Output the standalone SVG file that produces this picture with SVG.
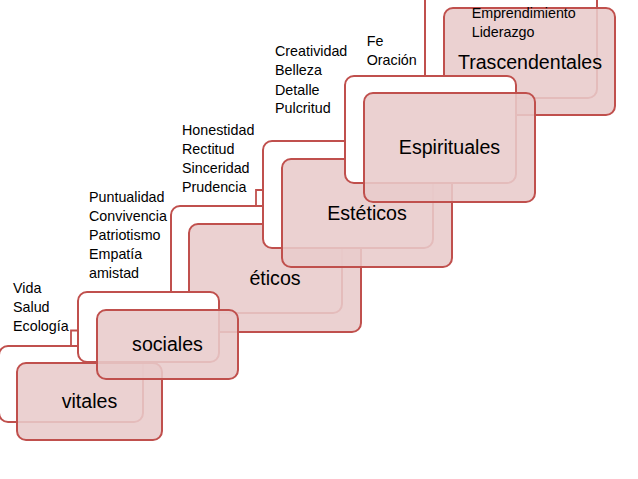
<svg xmlns="http://www.w3.org/2000/svg" width="638" height="479" viewBox="0 0 638 479">
<style>
.back{fill:#fff;stroke:#C0504D;stroke-width:2}
.front{fill:#E8CBCB;fill-opacity:.88;stroke:#C0504D;stroke-width:2}
.lbl{font-family:"Liberation Sans",Arial,sans-serif;font-size:19.6px;text-anchor:middle;fill:#000}
.sm{font-family:"Liberation Sans",Arial,sans-serif;font-size:14.3px;fill:#000}
.con{fill:none;stroke:#C0504D;stroke-width:1.8}
</style>
<rect width="638" height="479" fill="#fff"/>
<g id="trascendentales">
<rect class="back" x="425" y="-10" width="172" height="108" rx="9"/>
<rect class="front" x="444" y="8" width="171" height="107" rx="9"/>
<text class="lbl" x="530" y="69.3">Trascendentales</text>
<text class="sm" x="471.7" y="18.3">Emprendimiento</text>
<text class="sm" x="471.7" y="36.7">Liderazgo</text>
</g>
<g id="eticos">
<rect class="back" x="171" y="206" width="171" height="107" rx="9"/>
<rect class="front" x="189" y="224" width="172" height="108" rx="9"/>
<text class="lbl" x="275" y="284.5">éticos</text>
<text class="sm" x="182" y="135">Honestidad</text>
<text class="sm" x="182" y="154">Rectitud</text>
<text class="sm" x="182" y="173">Sinceridad</text>
<text class="sm" x="182" y="192.3">Prudencia</text>
</g>
<g id="vitales">
<rect class="back" x="-1" y="346" width="144" height="76" rx="9"/>
<rect class="front" x="17" y="363" width="145" height="77" rx="9"/>
<text class="lbl" x="89.5" y="408.3">vitales</text>
<text class="sm" x="13" y="293">Vida</text>
<text class="sm" x="13" y="312">Salud</text>
<text class="sm" x="13" y="331">Ecología</text>
</g>
<g id="esteticos">
<rect class="back" x="263" y="141" width="170" height="107" rx="9"/>
<rect class="front" x="282" y="159" width="170" height="108" rx="9"/>
<text class="lbl" x="367" y="219.5">Estéticos</text>
<text class="sm" x="275" y="56.3">Creatividad</text>
<text class="sm" x="275" y="75.3">Belleza</text>
<text class="sm" x="275" y="94.5">Detalle</text>
<text class="sm" x="275" y="113.3">Pulcritud</text>
</g>
<g id="sociales">
<rect class="back" x="78" y="292" width="141" height="70" rx="9"/>
<rect class="front" x="97" y="310" width="141" height="69" rx="9"/>
<text class="lbl" x="167.5" y="351">sociales</text>
<text class="sm" x="89" y="201.7">Puntualidad</text>
<text class="sm" x="89" y="220.7">Convivencia</text>
<text class="sm" x="89" y="240">Patriotismo</text>
<text class="sm" x="89" y="259">Empatía</text>
<text class="sm" x="89" y="278">amistad</text>
</g>
<g id="espirituales">
<rect class="back" x="345" y="76" width="171" height="107" rx="9"/>
<rect class="front" x="364" y="93" width="171" height="109" rx="9"/>
<text class="lbl" x="449.5" y="154">Espirituales</text>
<text class="sm" x="366.7" y="46">Fe</text>
<text class="sm" x="366.7" y="64.5">Oración</text>
</g>
<g id="connectors">
<path class="con" d="M71,346 V330.5 H78"/>
<path class="con" d="M256,206 V190 H263"/>
</g>
</svg>
